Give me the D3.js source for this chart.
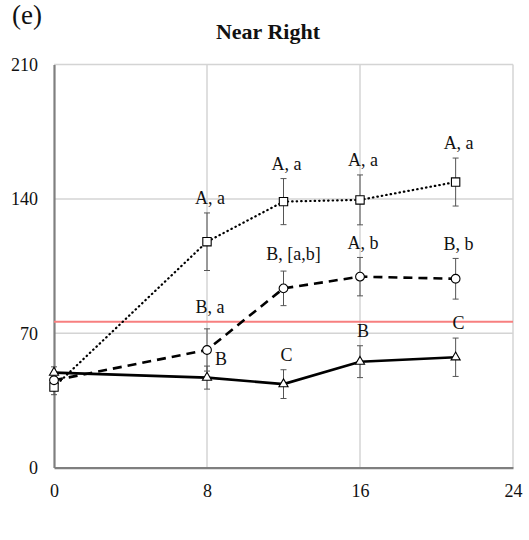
<!DOCTYPE html>
<html>
<head>
<meta charset="utf-8">
<script src="https://cdn.jsdelivr.net/npm/d3@7"></script>
<style>
  html, body { margin: 0; padding: 0; background: #fff; }
  svg text { font-family: "Liberation Serif", "Times New Roman", Times, serif !important; fill: #111; }
</style>
</head>
<body>
<svg id="chart" width="529" height="540"></svg>
<script>
// ---- data ----
const panelTag = "(e)";
const title = "Near Right";
const hours = [0, 8, 12, 16, 21];
const xTicks = [0, 8, 16, 24];
const yTicks = [0, 70, 140, 210];
const refLine = 76;

const squareValues = [42, 117.7, 138.6, 139.5, 148.8];
const squareErrors = [4, 15, 12, 13, 12.5];
const squareLabels = ["", "A, a", "A, a", "A, a", "A, a"];

const circleValues = [45.5, 61.3, 93.4, 99.5, 98.4];
const circleErrors = [4, 11, 9, 10, 10.6];
const circleLabels = ["", "B, a", "B, [a,b]", "A, b", "B, b"];

const triangleValues = [49.5, 46.9, 43.5, 55.2, 57.5];
const triangleErrors = [3, 6, 7.5, 8.3, 10];
const triangleLabels = ["", "B", "C", "B", "C"];

// ---- layout ----
const FONT = '"Liberation Serif", "Times New Roman", Times, serif';
const svg = d3.select("#chart");
const L = 54, R = 513, T = 64.6, B = 467.6;
const x = d3.scaleLinear().domain([0, 24]).range([L, R]);
const y = d3.scaleLinear().domain([0, 210]).range([B, T]);

// gridlines
const grid = svg.append("g");
grid.selectAll("line.h").data(yTicks.filter(d => d > 0)).join("line")
  .attr("x1", L).attr("x2", R).attr("y1", d => y(d)).attr("y2", d => y(d))
  .attr("stroke", "#d4d4d4").attr("stroke-width", 1.5);
grid.selectAll("line.v").data(xTicks.filter(d => d > 0)).join("line")
  .attr("y1", T).attr("y2", B).attr("x1", d => x(d)).attr("x2", d => x(d))
  .attr("stroke", "#d4d4d4").attr("stroke-width", 1.5);

// axes
const xAxis = svg.append("g").attr("transform", `translate(0,${B})`)
  .call(d3.axisBottom(x).tickValues(xTicks).tickSize(0).tickPadding(17));
const yAxis = svg.append("g").attr("transform", `translate(${L},0)`)
  .call(d3.axisLeft(y).tickValues(yTicks).tickSize(0).tickPadding(16));
[xAxis, yAxis].forEach(a => {
  a.attr("font-family", FONT).attr("font-size", 18);
  a.select(".domain").attr("stroke", "#7f7f7f").attr("stroke-width", 2.2);
  a.selectAll("text").attr("font-family", FONT).attr("font-size", 18).attr("fill", "#111");
});

// reference line
svg.append("line").attr("x1", L).attr("x2", R)
  .attr("y1", y(refLine)).attr("y2", y(refLine))
  .attr("stroke", "#f77f7f").attr("stroke-width", 2);

const series = [
  { values: squareValues, errors: squareErrors, labels: squareLabels, shape: "square",
    dash: "0.5,4", width: 2.2, cap: "round" },
  { values: circleValues, errors: circleErrors, labels: circleLabels, shape: "circle",
    dash: "9,6", width: 2.6, cap: "butt" },
  { values: triangleValues, errors: triangleErrors, labels: triangleLabels, shape: "triangle",
    dash: null, width: 2.6, cap: "butt" }
];

// error bars
series.forEach(s => {
  const g = svg.append("g").attr("stroke", "#555").attr("stroke-width", 1);
  hours.forEach((h, i) => {
    const top = y(s.values[i] + s.errors[i]), bot = y(s.values[i] - s.errors[i]);
    g.append("line").attr("x1", x(h)).attr("x2", x(h)).attr("y1", top).attr("y2", bot);
    g.append("line").attr("x1", x(h) - 3).attr("x2", x(h) + 3).attr("y1", top).attr("y2", top);
    g.append("line").attr("x1", x(h) - 3).attr("x2", x(h) + 3).attr("y1", bot).attr("y2", bot);
  });
});

// lines
const line = d3.line().x((d, i) => x(hours[i])).y(d => y(d));
series.forEach(s => {
  const p = svg.append("path").datum(s.values).attr("d", line)
    .attr("fill", "none").attr("stroke", "#000").attr("stroke-width", s.width)
    .attr("stroke-linecap", s.cap);
  if (s.dash) p.attr("stroke-dasharray", s.dash);
});

// markers
const sym = { square: d3.symbolSquare, circle: d3.symbolCircle, triangle: d3.symbolTriangle };
const size = { square: 70, circle: 60, triangle: 36 };
series.forEach(s => {
  svg.append("g").selectAll("path").data(s.values).join("path")
    .attr("d", d3.symbol().type(sym[s.shape]).size(size[s.shape]))
    .attr("transform", (d, i) => `translate(${x(hours[i])},${y(d)})`)
    .attr("fill", "#fff").attr("stroke", "#000").attr("stroke-width", 1.1);
});

// letter labels (placed above error bar, special nudges for crowded spots)
const nudges = { "2-1": [14, -4, "abs"], "1-1": [3, -22], "1-2": [10, -17] };
series.forEach((s, si) => {
  s.labels.forEach((t, i) => {
    if (!t) return;
    const key = si + "-" + i;
    const n = nudges[key];
    let cx = x(hours[i]) + 3, cy = y(s.values[i] + s.errors[i]) - 15;
    if (n && n[2] === "abs") { cx = x(hours[i]) + n[0]; cy = y(s.values[i]) + n[1] - 15; }
    else if (n) { cx = x(hours[i]) + n[0]; cy = y(s.values[i] + s.errors[i]) + n[1]; }
    svg.append("text").attr("x", cx).attr("y", cy).attr("dy", "0.35em")
      .attr("text-anchor", "middle").attr("font-family", FONT).attr("font-size", 18).text(t);
  });
});

// title & panel tag
svg.append("text").attr("x", 268).attr("y", 31).attr("dy", "0.35em")
  .attr("text-anchor", "middle").attr("font-family", FONT).attr("font-size", 22)
  .attr("font-weight", "bold").text(title);
svg.append("text").attr("x", 12).attr("y", 15).attr("dy", "0.35em")
  .attr("font-family", FONT).attr("font-size", 27).text(panelTag);
</script>
</body>
</html>
